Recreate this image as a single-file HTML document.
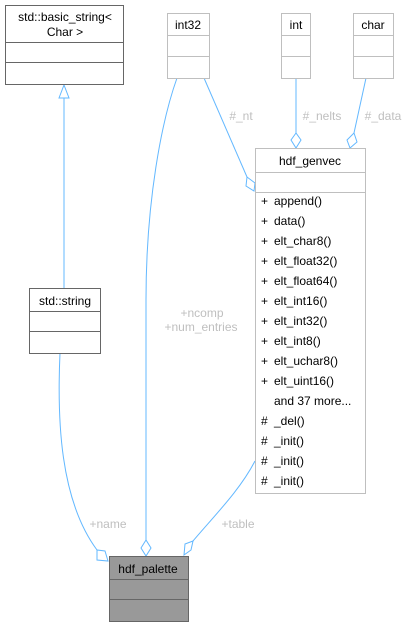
<html><body style="margin:0;width:410px;height:627px;background:#fff;overflow:hidden">
<svg width="410" height="627" xmlns="http://www.w3.org/2000/svg" font-family="Liberation Sans, sans-serif" font-size="12">
<g fill="none" stroke="#63b8ff" stroke-width="1">
<path d="M64,98 L64,288"/>
<path d="M59,98 L64,85 L69,98 Z" fill="#fff"/>
<path d="M60,353 C57,420 60,500 97,550"/>
<path d="M97,550 L97,560 L108,561 L105,551 Z" fill="#fff"/>
<path d="M177,78 C162,120 146,200 146,300 L146,540"/>
<path d="M146,540 L141,548 L146,556 L151,548 Z" fill="#fff"/>
<path d="M255,461 C240,490 215,515 193,541"/>
<path d="M193,541 L185,544 L184,555 L191,550 Z" fill="#fff"/>
<path d="M204,78 L247,177"/>
<path d="M247,177 L246,186 L254,191 L255,183 Z" fill="#fff"/>
<path d="M296,78 L296,133"/>
<path d="M296,133 L291,140 L296,148 L301,140 Z" fill="#fff"/>
<path d="M366,78 L354,133"/>
<path d="M354,133 L347,140 L350,148 L357,142 Z" fill="#fff"/>
</g>
<g fill="#bfbfbf" text-anchor="middle">
<text x="241" y="120">#_nt</text>
<text x="322" y="120">#_nelts</text>
<text x="383" y="120">#_data</text>
<text x="202" y="317">+ncomp</text>
<text x="201" y="331">+num_entries</text>
<text x="108" y="528">+name</text>
<text x="238" y="528">+table</text>
</g>
<g fill="#fff" stroke="#666">
<rect x="5.5" y="5.5" width="118" height="79"/>
<path d="M5,42.5H124M5,62.5H124"/>
<rect x="29.5" y="288.5" width="71" height="65"/>
<path d="M29,311.5H101M29,331.5H101"/>
</g>
<g fill="#fff" stroke="#bfbfbf">
<rect x="167.5" y="13.5" width="42" height="65"/>
<path d="M167,35.5H210M167,56.5H210"/>
<rect x="281.5" y="13.5" width="29" height="65"/>
<path d="M281,35.5H311M281,56.5H311"/>
<rect x="353.5" y="13.5" width="40" height="65"/>
<path d="M353,35.5H394M353,56.5H394"/>
<rect x="255.5" y="148.5" width="110" height="345"/>
<path d="M255,172.5H366M255,192.5H366"/>
</g>
<g fill="#999" stroke="#666">
<rect x="109.5" y="556.5" width="79" height="65"/>
<path d="M109,579.5H189M109,599.5H189"/>
</g>
<g fill="#000">
<text x="65" y="21" text-anchor="middle">std::basic_string&lt;</text>
<text x="65" y="36" text-anchor="middle">Char &gt;</text>
<text x="188" y="29" text-anchor="middle">int32</text>
<text x="296" y="29" text-anchor="middle">int</text>
<text x="373" y="29" text-anchor="middle">char</text>
<text x="65" y="305" text-anchor="middle">std::string</text>
<text x="148" y="573" text-anchor="middle">hdf_palette</text>
<text x="310" y="165" text-anchor="middle">hdf_genvec</text>
<text x="261" y="205">+</text><text x="274" y="205">append()</text>
<text x="261" y="225">+</text><text x="274" y="225">data()</text>
<text x="261" y="245">+</text><text x="274" y="245">elt_char8()</text>
<text x="261" y="265">+</text><text x="274" y="265">elt_float32()</text>
<text x="261" y="285">+</text><text x="274" y="285">elt_float64()</text>
<text x="261" y="305">+</text><text x="274" y="305">elt_int16()</text>
<text x="261" y="325">+</text><text x="274" y="325">elt_int32()</text>
<text x="261" y="345">+</text><text x="274" y="345">elt_int8()</text>
<text x="261" y="365">+</text><text x="274" y="365">elt_uchar8()</text>
<text x="261" y="385">+</text><text x="274" y="385">elt_uint16()</text>
<text x="274" y="405">and 37 more...</text>
<text x="261" y="425">#</text><text x="274" y="425">_del()</text>
<text x="261" y="445">#</text><text x="274" y="445">_init()</text>
<text x="261" y="465">#</text><text x="274" y="465">_init()</text>
<text x="261" y="485">#</text><text x="274" y="485">_init()</text>
</g>
</svg>
</body></html>
